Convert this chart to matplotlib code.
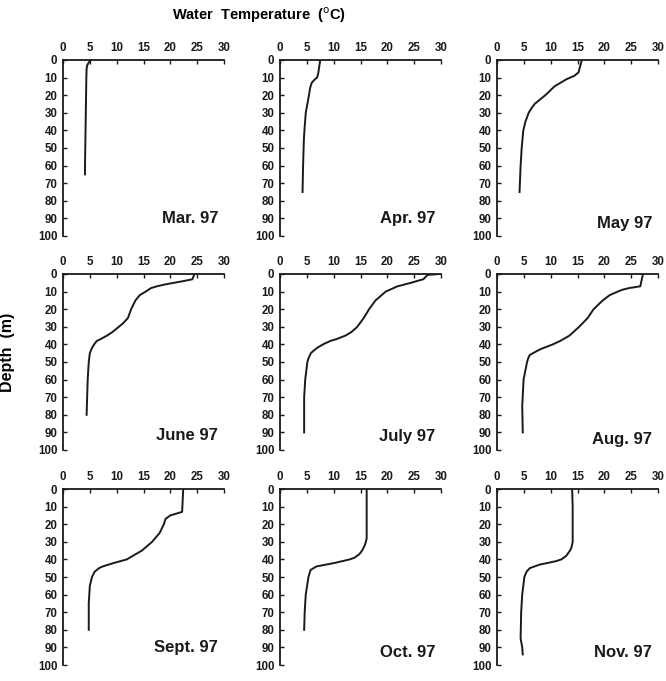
import matplotlib
matplotlib.use("Agg")
import matplotlib.pyplot as plt

plt.rcParams['font.family'] = ['Liberation Sans', 'DejaVu Sans']

months = ["Mar. 97", "Apr. 97", "May 97", "June 97", "July 97", "Aug. 97",
          "Sept. 97", "Oct. 97", "Nov. 97"]

mar_depth = [0, 1, 2, 3, 5, 10, 20, 30, 40, 50, 60, 65]
mar_temp = [5.1, 4.9, 4.7, 4.5, 4.4, 4.35, 4.3, 4.25, 4.2, 4.15, 4.1, 4.1]

apr_depth = [0, 8, 10, 11, 13, 16, 20, 25, 30, 38, 45, 60, 75]
apr_temp = [7.5, 7.1, 6.9, 6.5, 5.9, 5.6, 5.4, 5.1, 4.8, 4.6, 4.45, 4.3, 4.2]

may_depth = [0, 7, 9, 11, 13, 15, 18, 20, 23, 25, 28, 30, 35, 40, 50, 60, 75]
may_temp = [15.8, 15.2, 14.4, 12.9, 11.8, 10.7, 9.7, 9.0, 7.8, 7.0, 6.3, 5.9, 5.3, 4.9, 4.6, 4.4, 4.2]

jun_depth = [0, 3, 4, 5, 6, 7, 8, 10, 12, 15, 20, 25, 28, 30, 33, 35, 37, 38, 40, 42, 45, 50, 60, 80]
jun_temp = [24.5, 24.1, 22.5, 20.7, 18.9, 17.5, 16.4, 15.4, 14.3, 13.5, 12.7, 12.1, 11.2, 10.4, 9.2, 8.2, 7.0, 6.3, 5.8, 5.4, 5.0, 4.8, 4.6, 4.4]

jul_depth = [0, 0.5, 3, 4, 5, 7, 10, 15, 20, 25, 30, 33, 35, 37, 38, 40, 42, 44, 45, 48, 50, 60, 70, 90]
jul_temp = [29.7, 27.5, 26.7, 25.5, 24.4, 21.9, 19.7, 17.8, 16.6, 15.6, 14.4, 13.3, 12.2, 10.5, 9.4, 8.0, 6.9, 6.1, 5.75, 5.3, 5.1, 4.7, 4.5, 4.5]

aug_depth = [0, 7, 8, 9, 10, 12, 15, 20, 25, 30, 35, 38, 40, 42, 43, 45, 46, 48, 50, 60, 75, 90]
aug_temp = [27.2, 26.7, 24.6, 23.3, 22.5, 21.0, 19.7, 18.0, 16.9, 15.3, 13.5, 11.8, 10.4, 8.7, 7.9, 6.7, 6.1, 5.8, 5.6, 4.95, 4.7, 4.8]

sep_depth = [0, 13, 15, 17, 20, 25, 30, 35, 38, 40, 42, 44, 45, 47, 50, 55, 65, 80]
sep_temp = [22.4, 22.2, 20.0, 19.1, 18.8, 18.0, 16.6, 14.7, 13.0, 11.9, 9.5, 7.4, 6.7, 5.9, 5.4, 5.0, 4.8, 4.8]

oct_depth = [0, 28, 30, 32, 35, 37, 39, 40, 42, 44, 46, 50, 60, 70, 80]
oct_temp = [16.15, 16.15, 16.0, 15.8, 15.3, 14.8, 13.9, 13.0, 10.2, 6.8, 5.7, 5.3, 4.8, 4.6, 4.5]

nov_depth = [0, 10, 30, 33, 35, 38, 40, 41, 43, 45, 47, 50, 60, 70, 85, 90, 94]
nov_temp = [14.0, 14.1, 14.1, 13.9, 13.6, 12.9, 12.0, 11.0, 7.9, 6.1, 5.5, 5.1, 4.7, 4.5, 4.4, 4.7, 4.8]

depths = [mar_depth, apr_depth, may_depth, jun_depth, jul_depth, aug_depth,
          sep_depth, oct_depth, nov_depth]
temps = [mar_temp, apr_temp, may_temp, jun_temp, jul_temp, aug_temp,
         sep_temp, oct_temp, nov_temp]

x_ticks = [0, 5, 10, 15, 20, 25, 30]
y_ticks = [0, 10, 20, 30, 40, 50, 60, 70, 80, 90, 100]
label_y = [0.10, 0.10, 0.07, 0.085, 0.075, 0.06, 0.10, 0.07, 0.07]

W, H = 666, 681
fig = plt.figure(figsize=(W / 100, H / 100), dpi=100)

col_x = [63, 280, 497]
row_y = [60, 274, 489]
aw, ah = 161, 176

for i in range(9):
    r, c = divmod(i, 3)
    ax = fig.add_axes([col_x[c] / W, 1 - (row_y[r] + ah) / H, aw / W, ah / H])
    ax.plot(temps[i], depths[i], color='#1a1a1a', lw=1.4,
            solid_joinstyle='round')
    ax.set_xlim(0, 30)
    ax.set_ylim(100, 0)
    ax.set_xticks(x_ticks)
    ax.set_yticks(y_ticks)
    ax.xaxis.tick_top()
    ax.spines['right'].set_visible(False)
    ax.spines['bottom'].set_visible(False)
    for s in ('top', 'left'):
        ax.spines[s].set_linewidth(1.3)
        ax.spines[s].set_color('#1a1a1a')
    ax.tick_params(axis='both', direction='in', length=3, width=1.0,
                   labelsize=8.3, pad=4, colors='#1a1a1a')
    for lab in ax.get_xticklabels() + ax.get_yticklabels():
        lab.set_fontweight('bold')
    ax.text(0.965, label_y[i], months[i], transform=ax.transAxes,
            ha='right', va='center', fontsize=12, fontweight='bold',
            color='#1a1a1a')

fig.text(259 / W, 1 - 15 / H, r'Water  Temperature  ($^{\mathrm{o}}$C)',
         ha='center', va='center', fontsize=10.5, fontweight='bold')
fig.text(8 / W, 1 - 352 / H, 'Depth  (m)', rotation=90, ha='center',
         va='center', fontsize=11.5, fontweight='bold')

fig.savefig('out.png', dpi=100)
